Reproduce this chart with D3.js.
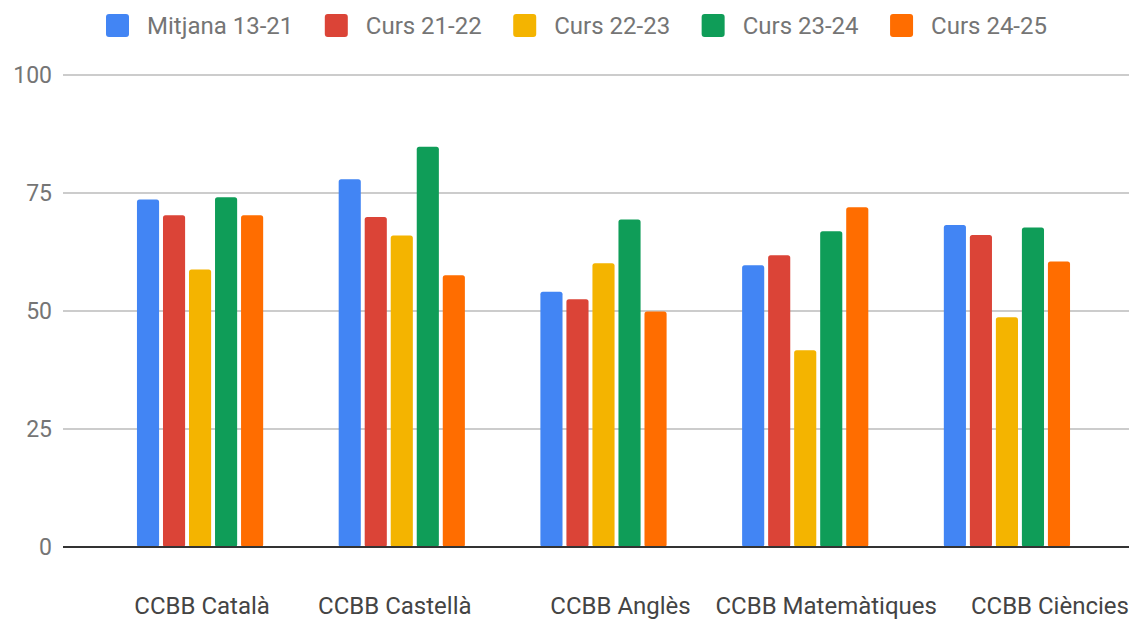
<!DOCTYPE html>
<html>
<head>
<meta charset="utf-8">
<script src="https://cdn.jsdelivr.net/npm/d3@7"></script>
<style>
    body { margin: 0; background: #fff; }
    svg { display: block; font-family: Roboto, sans-serif; }
</style>
</head>
<body>
<div id="container"></div>
<script>
const categories = ['CCBB Català', 'CCBB Castellà', 'CCBB Anglès', 'CCBB Matemàtiques', 'CCBB Ciències'];
const seriesNames = ['Mitjana 13-21', 'Curs 21-22', 'Curs 22-23', 'Curs 23-24', 'Curs 24-25'];
const mitjana = [73.6, 77.9, 54.1, 59.7, 68.2];
const curs2122 = [70.3, 69.9, 52.5, 61.8, 66.1];
const curs2223 = [58.8, 66.0, 60.1, 41.7, 48.7];
const curs2324 = [74.1, 84.8, 69.4, 66.9, 67.7];
const curs2425 = [70.3, 57.6, 49.9, 72.0, 60.5];
const yTicks = [0, 25, 50, 75, 100];

const seriesValues = [mitjana, curs2122, curs2223, curs2324, curs2425];
const colors = ['#4285f4', '#db4437', '#f4b400', '#0f9d58', '#ff6d00'];

const width = 1129;
const height = 619;
const plotLeft = 63;
const plotTop = 75;
const plotBottom = 547;
// google charts puts the labels a bit off the group centre
const labelShift = [2, -7, 17, 21, 43];

const svg = d3.select('#container')
              .append('svg')
              .attr('width', width)
              .attr('height', height);

const y = d3.scaleLinear().domain([0, 100]).range([plotBottom, plotTop]);

const x0 = d3.scaleBand()
             .domain(categories)
             .range([plotLeft, 1144])
             .paddingInner(0.355)
             .paddingOuter(0.357);

const x1 = d3.scaleBand()
             .domain(seriesNames)
             .range([0, x0.bandwidth()])
             .paddingInner(0.15)
             .paddingOuter(0.075);

// grid
svg.append('g')
   .selectAll('line')
   .data(yTicks.filter(d => d > 0))
   .enter()
   .append('line')
   .attr('x1', plotLeft)
   .attr('x2', width)
   .attr('y1', d => y(d))
   .attr('y2', d => y(d))
   .attr('stroke', '#cccccc')
   .attr('stroke-width', 2);

const yAxis = svg.append('g')
                 .attr('transform', 'translate(' + (plotLeft - 11) + ',0)')
                 .call(d3.axisLeft(y).tickValues(yTicks).tickSize(0).tickPadding(0));
yAxis.select('.domain').remove();
yAxis.selectAll('text')
     .attr('fill', '#757575')
     .style('font-size', '23px')
     .style('font-family', 'Roboto, sans-serif');

// bars
const group = svg.selectAll('.grp')
                 .data(categories)
                 .enter()
                 .append('g')
                 .attr('class', 'grp')
                 .attr('transform', d => 'translate(' + x0(d) + ',0)');

group.selectAll('rect')
     .data((d, i) => seriesNames.map((s, j) => ({ series: s, value: seriesValues[j][i], color: colors[j] })))
     .enter()
     .append('rect')
     .attr('x', d => x1(d.series))
     .attr('y', d => y(d.value))
     .attr('width', x1.bandwidth())
     .attr('height', d => plotBottom - y(d.value))
     .attr('rx', 2.5)
     .attr('fill', d => d.color);

// baseline
svg.append('line')
   .attr('x1', plotLeft)
   .attr('x2', width)
   .attr('y1', y(0))
   .attr('y2', y(0))
   .attr('stroke', '#333333')
   .attr('stroke-width', 2);

const xAxis = svg.append('g')
                 .attr('transform', 'translate(0,' + plotBottom + ')')
                 .call(d3.axisBottom(x0).tickSize(0).tickPadding(0));
xAxis.select('.domain').remove();
xAxis.selectAll('text')
     .attr('y', 67)
     .attr('dy', 0)
     .attr('dx', (d, i) => labelShift[i])
     .attr('fill', '#444444')
     .style('font-size', '24px')
     .style('font-family', 'Roboto, sans-serif');

// legend
const legend = svg.append('g').attr('transform', 'translate(106,14)');
let lx = 0;
seriesNames.forEach((s, i) => {
    const item = legend.append('g').attr('transform', 'translate(' + lx + ',0)');
    item.append('rect')
        .attr('width', 23)
        .attr('height', 23)
        .attr('rx', 3)
        .attr('fill', colors[i]);
    const t = item.append('text')
                  .attr('x', 41)
                  .attr('y', 20)
                  .attr('fill', '#757575')
                  .style('font-size', '24px')
                  .text(s);
    lx += 41 + t.node().getComputedTextLength() + 31.5;
});
</script>
</body>
</html>
